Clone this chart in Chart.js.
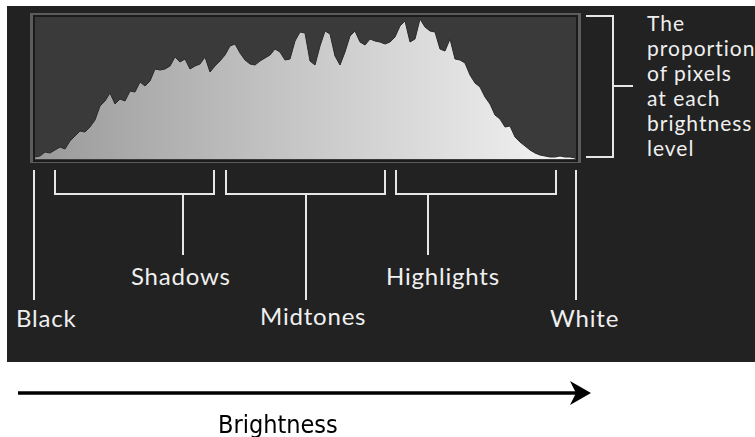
<!DOCTYPE html>
<html>
<head>
<meta charset="utf-8">
<script src="https://cdn.jsdelivr.net/npm/chart.js@4.4.1/dist/chart.umd.min.js"></script>
<style>
  html, body { margin: 0; padding: 0; background: #fff; }
  body { width: 755px; height: 437px; position: relative; overflow: hidden; }
  #panel { position: absolute; left: 7px; top: 6px; width: 748px; height: 356px; background: #222222; }
  #frame { position: absolute; left: 30px; top: 13px; width: 551px; height: 150px; background: #5c5c5c; }
  #plot { position: absolute; left: 33px; top: 15px; width: 541px; height: 143px; background: #3a3a3a; border: 2px solid #1b1b1b; }
  #wrap { position: absolute; left: 35px; top: 17px; width: 540px; height: 142px; }
  .lbl { position: absolute; color: #efefef; font-family: Lato, "Noto Sans", sans-serif; font-size: 24px; line-height: 24px; letter-spacing: 0.8px; white-space: nowrap; }
  .ln { position: absolute; background: #e6e6e6; }
  .br { position: absolute; border: 2px solid #e6e6e6; border-top: none; box-sizing: border-box; }
  #side { position: absolute; left: 647px; top: 10px; color: #efefef; font-family: Lato, "Noto Sans", sans-serif; font-size: 21px; line-height: 25px; letter-spacing: 1px; white-space: nowrap; }
  #rb { position: absolute; left: 586px; top: 15px; width: 28px; height: 143px; border: 2px solid #e6e6e6; border-left: none; box-sizing: border-box; }
  #axis { position: absolute; left: 218px; top: 412px; font-family: "Liberation Sans Narrow", "DejaVu Sans Condensed", sans-serif; font-size: 25px; line-height: 26px; color: #000; white-space: nowrap; }
</style>
</head>
<body>
<div id="panel"></div>
<div id="frame"></div>
<div id="plot"></div>
<div id="wrap"><canvas id="hist"></canvas></div>

<!-- labels and brackets -->
<div class="ln" style="left:33px; top:170px; width:2px; height:130px;"></div>
<div class="ln" style="left:575px; top:170px; width:2px; height:130px;"></div>

<div class="br" style="left:54px; top:170px; width:161px; height:25px;"></div>
<div class="ln" style="left:182px; top:193px; width:2px; height:62px;"></div>
<div class="br" style="left:225px; top:170px; width:161px; height:25px;"></div>
<div class="ln" style="left:305px; top:193px; width:2px; height:107px;"></div>
<div class="br" style="left:395px; top:170px; width:162px; height:25px;"></div>
<div class="ln" style="left:427px; top:193px; width:2px; height:62px;"></div>

<div class="lbl" style="left:16px; top:306px;">Black</div>
<div class="lbl" style="left:131px; top:264px;">Shadows</div>
<div class="lbl" style="left:260px; top:304px;">Midtones</div>
<div class="lbl" style="left:386px; top:264px;">Highlights</div>
<div class="lbl" style="left:550px; top:306px;">White</div>

<div id="rb"></div>
<div class="ln" style="left:612px; top:85px; width:21px; height:2px;"></div>
<div id="side">The<br>proportion<br>of pixels<br>at each<br>brightness<br>level</div>

<svg style="position:absolute; left:0; top:0;" width="755" height="437">
  <line x1="18" y1="393" x2="580" y2="393" stroke="#000" stroke-width="3.5"/>
  <polygon points="591,393 570,381 576,393 570,405" fill="#000"/>
</svg>
<div id="axis">Brightness</div>

<script>
// histogram heights, left (black) to right (white)
const counts = [2, 3, 7, 6, 9, 12, 10, 18, 23, 28, 27, 32, 39, 53, 58, 66, 55, 60, 58, 68,
  67, 77, 73, 78, 90, 89, 90, 93, 102, 97, 100, 90, 93, 95, 102, 87, 93, 98, 104, 113,
  115, 106, 99, 95, 94, 98, 101, 104, 110, 107, 99, 100, 118, 127, 126, 98, 94, 113, 128, 125,
  103, 94, 107, 123, 128, 117, 114, 120, 118, 117, 115, 117, 122, 133, 138, 117, 120, 140, 132, 128,
  127, 110, 108, 120, 100, 99, 96, 84, 76, 72, 62, 55, 44, 40, 32, 33, 22, 17, 13, 9,
  6, 4, 3, 2, 2, 3, 2, 2, 1];
const levels = counts.map((_, i) => i);

const ctx = document.getElementById("hist").getContext("2d");
new Chart(ctx, {
  type: "line",
  data: {
    labels: levels,
    datasets: [{
      data: counts,
      fill: "origin",
      borderColor: "#2a2a2a",
      borderWidth: 1,
      pointRadius: 0,
      tension: 0,
      backgroundColor: function (c) {
        const a = c.chart.chartArea;
        if (!a) return "#bbb";
        const g = c.chart.ctx.createLinearGradient(a.left, 0, a.right, 0);
        g.addColorStop(0, "#9a9a9a");
        g.addColorStop(0.5, "#c8c8c8");
        g.addColorStop(1, "#f4f4f4");
        return g;
      }
    }]
  },
  options: {
    responsive: true,
    maintainAspectRatio: false,
    animation: false,
    layout: { padding: 0 },
    plugins: { legend: { display: false }, tooltip: { enabled: false } },
    scales: {
      x: { display: false, offset: false },
      y: { display: false, min: 0, max: 142 }
    }
  }
});
</script>
</body>
</html>
